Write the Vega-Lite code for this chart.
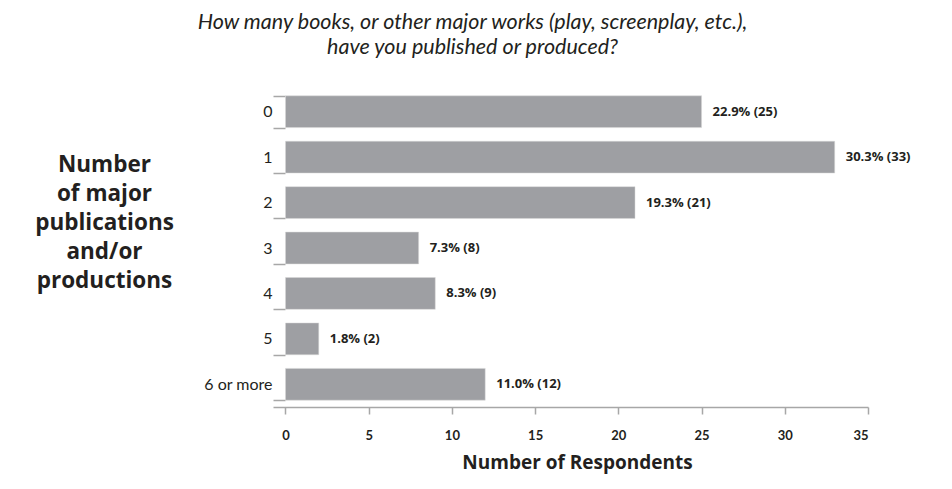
{
  "$schema": "https://vega.github.io/schema/vega-lite/v6.json",
  "width": 595,
  "height": 318,
  "autosize": {"type": "none"},
  "padding": {"left": 273, "top": 89, "right": 84, "bottom": 82},
  "background": "white",
  "config": {
    "view": {"stroke": null},
    "font": "Lato",
    "text": {"font": "Lato"}
  },
  "title": {
    "text": ["How many books, or other major works (play, screenplay, etc.),", "have you published or produced?"],
    "font": "Lato",
    "fontSize": 21.5,
    "fontStyle": "italic",
    "fontWeight": "normal",
    "color": "#231f20",
    "lineHeight": 25,
    "anchor": "middle",
    "frame": "bounds",
    "offset": 23
  },
  "data": {
    "values": [
      {"works": "0", "respondents": 25, "label": "22.9% (25)"},
      {"works": "1", "respondents": 33, "label": "30.3% (33)"},
      {"works": "2", "respondents": 21, "label": "19.3% (21)"},
      {"works": "3", "respondents": 8, "label": "7.3% (8)"},
      {"works": "4", "respondents": 9, "label": "8.3% (9)"},
      {"works": "5", "respondents": 2, "label": "1.8% (2)"},
      {"works": "6 or more", "respondents": 12, "label": "11.0% (12)"}
    ]
  },
  "encoding": {
    "y": {
      "field": "works",
      "type": "nominal",
      "sort": null,
      "scale": {"paddingInner": 0.3, "paddingOuter": 0.15},
      "axis": {
        "title": ["Number", "of major", "publications", "and/or", "productions"],
        "titleAngle": 0,
        "titleAlign": "center",
        "titleBaseline": "middle",
        "titleX": -169,
        "titleY": 75,
        "titleFont": "Open Sans",
        "titleFontSize": 22.5,
        "titleFontWeight": "bold",
        "titleColor": "#231f20",
        "titleLineHeight": 29,
        "domain": false,
        "tickBand": "extent",
        "tickSize": -12,
        "tickColor": "#a7a7a7",
        "tickWidth": 1.5,
        "labelPadding": 13,
        "labelFont": "Lato",
        "labelFontSize": 16,
        "labelColor": "#231f20"
      }
    }
  },
  "layer": [
    {
      "mark": {"type": "bar", "color": "#9e9fa3", "stroke": "#d8d8d8", "strokeWidth": 0.5},
      "encoding": {
        "x": {
          "field": "respondents",
          "type": "quantitative",
          "scale": {"domain": [-0.75, 35], "nice": false, "zero": false},
          "axis": {
            "values": [0, 5, 10, 15, 20, 25, 30, 35],
            "title": "Number of Respondents",
            "titleFont": "Open Sans",
            "titleFontSize": 19,
            "titleFontWeight": "bold",
            "titleColor": "#231f20",
            "titleX": 304,
            "titlePadding": 11,
            "grid": false,
            "domainColor": "#a7a7a7",
            "domainWidth": 1.5,
            "tickColor": "#a7a7a7",
            "tickWidth": 1.5,
            "tickSize": 7,
            "labelPadding": 15,
            "labelFont": "Lato",
            "labelFontSize": 13,
            "labelFontWeight": "bold",
            "labelColor": "#231f20"
          }
        }
      }
    },
    {
      "mark": {"type": "text", "align": "left", "baseline": "middle", "dx": 11, "font": "Open Sans", "fontSize": 13, "fontWeight": "bold", "color": "#231f20"},
      "encoding": {
        "x": {"field": "respondents", "type": "quantitative"},
        "text": {"field": "label", "type": "nominal"}
      }
    },
    {
      "mark": {"type": "rule", "color": "#a7a7a7", "strokeWidth": 1.5},
      "encoding": {"x": {"datum": 0}}
    }
  ]
}
